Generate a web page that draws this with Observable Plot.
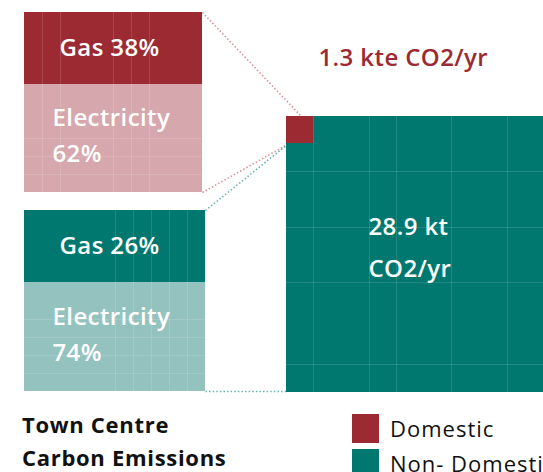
<!DOCTYPE html>
<html><head><meta charset="utf-8">
<script src="https://cdn.jsdelivr.net/npm/d3@7"></script>
<script src="https://cdn.jsdelivr.net/npm/@observablehq/plot@0.6"></script>
<style>
body{margin:0;background:#fff;width:543px;height:472px;overflow:hidden;position:relative;font-family:"Open Sans",sans-serif;}
#chart{position:absolute;left:0;top:0;}
#title{position:absolute;left:22px;top:408px;font-weight:700;font-size:22px;line-height:33px;color:#111;letter-spacing:0.7px;}
#legend{position:absolute;left:352px;top:413px;white-space:nowrap;width:300px;}
#legend [class$="-swatch"]{padding-bottom:5px !important;}
#legend [class$="-swatch-label"]{overflow:visible !important;text-overflow:clip !important;}
</style></head><body>
<div id="chart"></div><div id="title">Town Centre<br>Carbon Emissions</div><div id="legend"></div>
<script>
// ---- data ----
const sectors = ["Domestic", "Non- Domestic"];
const emissions = [1.3, 28.9];                 // kt CO2 / yr
const emissionLabels = ["1.3 kte CO2/yr", "28.9 kt\nCO2/yr"];
const fuels = ["Gas", "Electricity"];
const gasShare = [38, 26];                      // % (label text)
const elecShare = [62, 74];                     // % (label text)
const boxGasShare = [40, 40];                   // gas share of each box as drawn in the reference
const sectorColors = ["#9c2a33", "#00786f"];
const lightColors = ["#d6a7ac", "#94c2bf"];
const linkColors = ["#d98c95", "#5ab3ab"];

// ---- layout (pixels) ----
const W = 543, H = 400;
const stackBoxes = [{x1:24,x2:202,y1:12,y2:192},{x1:24,x2:205,y1:210,y2:391}];
const bigBox = {x1:286,x2:562,y1:116,y2:392};
const smallBox = {x1:286,x2:313,y1:116,y2:143};
// faint spreadsheet cell lines showing through the shapes (decoration)
const cellLinesX = [
  {box:stackBoxes[0], at:[42, 60, 113, 131, 149]},
  {box:stackBoxes[1], at:[115, 133, 151, 169, 187]},
  {box:bigBox, at:[313, 369, 396, 451, 507]}
];
const cellLinesY = [
  {box:stackBoxes[0], at:[138, 156, 174]},
  {box:stackBoxes[1], at:[319, 337, 355, 373]},
  {box:bigBox, at:[171, 227, 282, 364]}
];

const stackRows = sectors.flatMap((s, i) => {
  const b = stackBoxes[i];
  const ySplit = b.y1 + (b.y2 - b.y1) * boxGasShare[i] / 100;
  return [
    {sector:s, fuel:fuels[0], x1:b.x1, x2:b.x2, y1:b.y1, y2:ySplit, fill:sectorColors[i], label:`${fuels[0]} ${gasShare[i]}%`},
    {sector:s, fuel:fuels[1], x1:b.x1, x2:b.x2, y1:ySplit, y2:b.y2, fill:lightColors[i], label:`${fuels[1]}\n${elecShare[i]}%`}
  ];
});
const squareRows = [
  {sector:sectors[1], value:emissions[1], ...bigBox, fill:sectorColors[1]},
  {sector:sectors[0], value:emissions[0], ...smallBox, fill:sectorColors[0]}
];
const links = [
  {x1:stackBoxes[0].x2, y1:stackBoxes[0].y1, x2:smallBox.x1+15, y2:smallBox.y1, stroke:linkColors[0]},
  {x1:stackBoxes[0].x2, y1:stackBoxes[0].y2, x2:smallBox.x1+1, y2:smallBox.y2+1, stroke:linkColors[0]},
  {x1:stackBoxes[1].x2, y1:stackBoxes[1].y1, x2:smallBox.x1+1, y2:smallBox.y2+1, stroke:linkColors[1]},
  {x1:stackBoxes[1].x2, y1:stackBoxes[1].y2, x2:bigBox.x1, y2:stackBoxes[1].y2, stroke:linkColors[1]}
];
const emissionRows = [
  {text:emissionLabels[0], x:smallBox.x1+32, y:bigBox.y1-58, fill:sectorColors[0]},
  {text:emissionLabels[1], x:bigBox.x1+82, y:bigBox.y1+126, fill:"#ffffff"}
];
const vLines = cellLinesX.flatMap(g => g.at.map(x => ({x, y1:g.box.y1, y2:g.box.y2})));
const hLines = cellLinesY.flatMap(g => g.at.map(y => ({y, x1:g.box.x1, x2:Math.min(g.box.x2, W)})));

const plot = Plot.plot({
  width:W, height:H, margin:0,
  x:{domain:[0,W], range:[0,W], axis:null},
  y:{domain:[0,H], range:[0,H], axis:null},
  color:{type:"identity"},
  style:{fontFamily:"Open Sans, sans-serif", background:"transparent", overflow:"hidden"},
  marks:[
    Plot.link(links, {x1:"x1", y1:"y1", x2:"x2", y2:"y2", stroke:"stroke", strokeWidth:1.6, strokeDasharray:"1.4 2.2"}),
    Plot.rect(stackRows, {x1:"x1", x2:"x2", y1:"y1", y2:"y2", fill:"fill"}),
    Plot.rect(squareRows.slice(0,1), {x1:"x1", x2:"x2", y1:"y1", y2:"y2", fill:"fill"}),
    Plot.ruleX(vLines, {x:"x", y1:"y1", y2:"y2", stroke:"white", strokeOpacity:0.13, strokeWidth:1}),
    Plot.ruleY(hLines, {y:"y", x1:"x1", x2:"x2", stroke:"white", strokeOpacity:0.13, strokeWidth:1}),
    Plot.rect(squareRows.slice(1), {x1:"x1", x2:"x2", y1:"y1", y2:"y2", fill:"fill"}),
    Plot.text(stackRows.filter(d => d.fuel === fuels[0]), {
      x:d => d.x1 + 35, y:d => (d.y1 + d.y2) / 2, text:"label", textAnchor:"start",
      fill:"white", fontSize:24, fontWeight:600
    }),
    Plot.text(stackRows.filter(d => d.fuel === fuels[1]), {
      x:d => d.x1 + 28, y:d => (d.y1 + d.y2) / 2 - 6, text:"label", textAnchor:"start",
      lineHeight:1.5, fill:"white", fontSize:24, fontWeight:600
    }),
    Plot.text(emissionRows.slice(0,1), {x:"x", y:"y", text:"text", fill:"fill", textAnchor:"start", fontSize:24, fontWeight:600}),
    Plot.text(emissionRows.slice(1), {x:"x", y:"y", text:"text", fill:"fill", textAnchor:"start", fontSize:24, fontWeight:600, lineHeight:1.75})
  ]
});
plot.querySelectorAll("text").forEach(t => t.style.letterSpacing = "0.4px");
document.getElementById("chart").append(plot);

const legend = Plot.legend({
  color:{type:"ordinal", domain:sectors, range:sectorColors},
  legend:"swatches", columns:1, swatchWidth:27, swatchHeight:29,
  style:{fontSize:"22px", fontFamily:"Open Sans, sans-serif", color:"#111", letterSpacing:"1px", margin:"0"}
});
document.getElementById("legend").append(legend);
</script></body></html>
